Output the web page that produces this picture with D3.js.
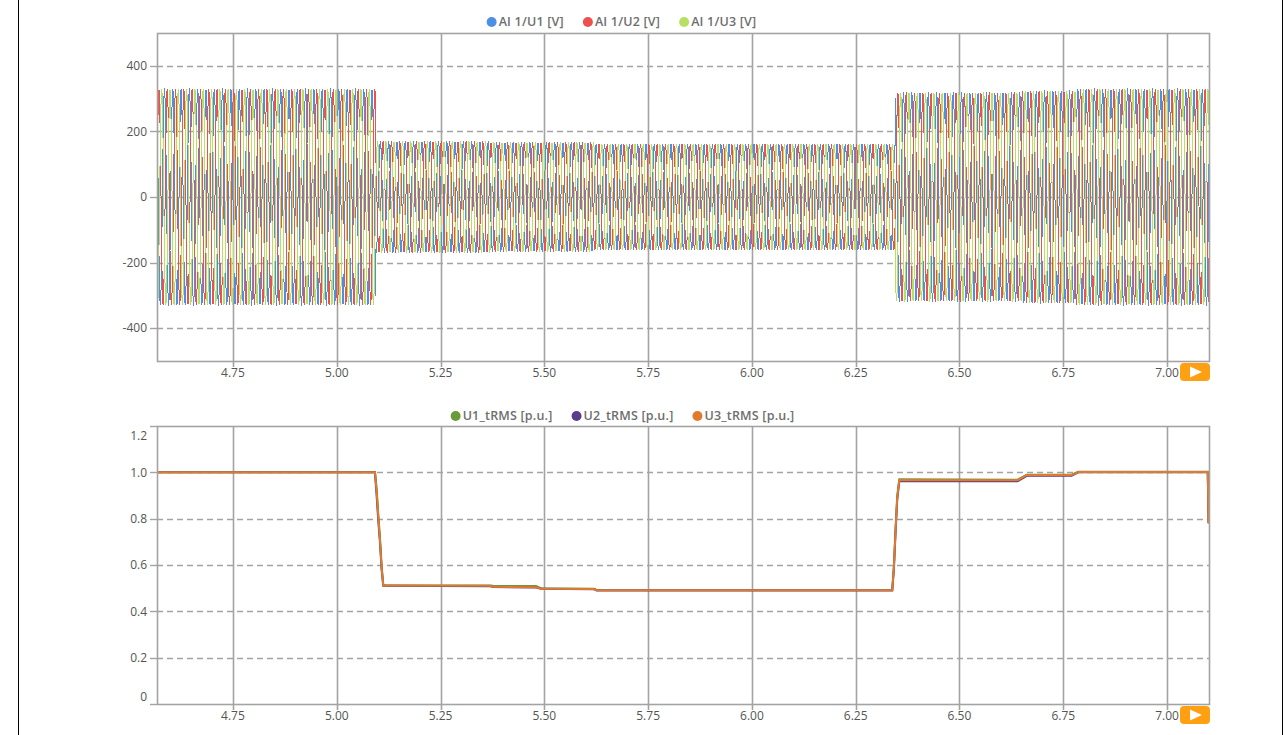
<!DOCTYPE html>
<html>
<head>
<meta charset="utf-8">
<script src="https://cdn.jsdelivr.net/npm/d3@7"></script>
<style>
  html, body { margin: 0; padding: 0; background: #fff; }
  svg { display: block; font-family: "Open Sans", "Noto Sans", sans-serif; }
</style>
</head>
<body>
<svg id="chart" width="1285" height="735"></svg>
<script>
// ---------------- DATA ----------------
const xTicks = [4.75, 5.00, 5.25, 5.50, 5.75, 6.00, 6.25, 6.50, 6.75, 7.00];
const xTickLabels = ["4.75", "5.00", "5.25", "5.50", "5.75", "6.00", "6.25", "6.50", "6.75", "7.00"];
const xDomain = [4.567, 7.101];

const topYTicks = [-400, -200, 0, 200, 400];
const topYTickLabels = ["-400", "-200", "0", "200", "400"];
const topYDomain = [-500, 500];

const botYTicks = [0, 0.2, 0.4, 0.6, 0.8, 1.0, 1.2];
const botYTickLabels = ["0", "0.2", "0.4", "0.6", "0.8", "1.0", "1.2"];
const botYDomain = [0, 1.2];

// voltage channels: three-phase 50 Hz system, read as peak-amplitude segments
const waveNames = ["AI 1/U1 [V]", "AI 1/U2 [V]", "AI 1/U3 [V]"];
const wavePhaseDeg = [0, -120, 120];
const waveFreqHz = 50;
const waveSampleRate = 4000;
const segStart = [4.567, 5.094, 5.37, 5.62, 6.346, 6.65, 6.78];
const segEnd   = [5.094, 5.37, 5.62, 6.346, 6.65, 6.78, 7.101];
const segAmpStart = [327, 168, 165, 160, 316, 321, 327];
const segAmpEnd   = [327, 168, 165, 160, 316, 321, 327];

// tRMS channels (p.u.)
const rmsNames = ["U1_tRMS [p.u.]", "U2_tRMS [p.u.]", "U3_tRMS [p.u.]"];
const rmsT = [4.567, 5.092, 5.096, 5.100, 5.104, 5.108, 5.112, 5.116, 5.370, 5.376, 5.480, 5.492, 5.620, 5.626, 6.338, 6.342, 6.346, 6.350, 6.355, 6.640, 6.662, 6.770, 6.786, 7.098, 7.100];
const rmsU1 = [1.0, 1.0, 0.93, 0.82, 0.72, 0.60, 0.515, 0.513, 0.512, 0.510, 0.509, 0.500, 0.497, 0.492, 0.492, 0.60, 0.76, 0.90, 0.970, 0.968, 0.990, 0.990, 1.002, 1.002, 0.78];
const rmsU2 = [1.0, 1.0, 0.90, 0.79, 0.70, 0.58, 0.510, 0.510, 0.508, 0.505, 0.503, 0.497, 0.495, 0.490, 0.490, 0.58, 0.74, 0.88, 0.962, 0.962, 0.985, 0.985, 1.000, 1.000, 0.78];
const rmsU3 = [1.0, 1.0, 0.92, 0.81, 0.71, 0.59, 0.512, 0.512, 0.510, 0.506, 0.504, 0.498, 0.496, 0.491, 0.491, 0.59, 0.75, 0.89, 0.967, 0.966, 0.988, 0.988, 1.001, 1.001, 0.78];

// ---------------- STYLE ----------------
const waveColors = ["#4d8fe6", "#ec5050", "#b6e061"];
const rmsColors = ["#6a9a3a", "#5a3d8a", "#e07a2e"];
const gridColor = "#a3a3a3";
const textColor = "#555";

const svg = d3.select("#chart");

svg.append("line").attr("x1", 18.5).attr("x2", 18.5).attr("y1", 0).attr("y2", 735).attr("stroke", "#000").attr("stroke-width", 1);
svg.append("line").attr("x1", 1282.5).attr("x2", 1282.5).attr("y1", 0).attr("y2", 735).attr("stroke", "#000").attr("stroke-width", 1);

function drawPanel(cfg) {
  const { top, bottom, left, right, yDomain, yTicks, id } = cfg;
  const x = d3.scaleLinear().domain(xDomain).range([left, right]);
  const y = d3.scaleLinear().domain(yDomain).range([bottom, top]);
  const g = svg.append("g");

  g.selectAll(".hg").data(yTicks.filter(v => v > yDomain[0] && v < yDomain[1])).enter()
    .append("line")
    .attr("x1", left).attr("x2", right)
    .attr("y1", d => Math.round(y(d)) + 0.5).attr("y2", d => Math.round(y(d)) + 0.5)
    .attr("stroke", gridColor).attr("stroke-width", 1.4).attr("stroke-dasharray", "6,4");

  g.selectAll(".vg").data(xTicks).enter()
    .append("line")
    .attr("x1", d => Math.round(x(d)) + 0.5).attr("x2", d => Math.round(x(d)) + 0.5)
    .attr("y1", top).attr("y2", bottom + 6)
    .attr("stroke", gridColor).attr("stroke-width", 1.6);

  g.selectAll(".yt").data(yTicks).enter()
    .append("line")
    .attr("x1", left - 7).attr("x2", left)
    .attr("y1", d => Math.round(y(d)) + 0.5).attr("y2", d => Math.round(y(d)) + 0.5)
    .attr("stroke", gridColor).attr("stroke-width", 1.4);

  svg.append("clipPath").attr("id", id)
    .append("rect").attr("x", left).attr("y", top).attr("width", right - left).attr("height", bottom - top);

  return { x, y, g };
}

function drawFrameAndLabels(p, cfg) {
  const { top, bottom, left, right, yDomain, yTicks, yLabels } = cfg;
  const { x, y } = p;
  const f = svg.append("g");
  f.append("rect").attr("x", left + 0.5).attr("y", top + 0.5)
    .attr("width", right - left).attr("height", bottom - top)
    .attr("fill", "none").attr("stroke", gridColor).attr("stroke-width", 1.6);

  f.selectAll(".yl").data(yTicks).enter().append("text")
    .attr("x", left - 10)
    .attr("y", (d) => y(d) + (d === yDomain[1] ? 10 : d === yDomain[0] ? -7 : 0))
    .attr("dy", "0.35em")
    .attr("text-anchor", "end")
    .attr("font-size", 12).attr("fill", textColor)
    .text((d, i) => yLabels[i]);

  f.selectAll(".xl").data(xTicks).enter().append("text")
    .attr("x", d => x(d))
    .attr("y", bottom + 12)
    .attr("dy", "0.35em")
    .attr("text-anchor", "middle")
    .attr("font-size", 12).attr("fill", textColor)
    .text((d, i) => xTickLabels[i]);

  const bx = right - 29, by = bottom + 2;
  f.append("rect").attr("x", bx).attr("y", by).attr("width", 30).attr("height", 18)
    .attr("rx", 4).attr("fill", "#ffa012");
  f.append("path")
    .attr("d", `M${bx + 10},${by + 3.5} L${bx + 22},${by + 9} L${bx + 10},${by + 14.5} Z`)
    .attr("fill", "#fff");
}

function drawLegend(names, colors, cx, cy) {
  const lg = svg.append("g");
  const items = names.map((n, i) => {
    const t = lg.append("text").attr("y", cy).attr("dy", "0.35em")
      .attr("font-size", 12.5).attr("font-weight", 600).attr("fill", "#6e6e6e")
      .attr("letter-spacing", 0.2).text(n);
    return { t, w: t.node().getComputedTextLength() };
  });
  const gap = 19;
  const total = d3.sum(items, d => d.w) + names.length * 11 + gap * (names.length - 1);
  let xPos = cx - total / 2;
  items.forEach((it, i) => {
    lg.append("circle").attr("cx", xPos + 5).attr("cy", cy).attr("r", 5).attr("fill", colors[i]);
    it.t.attr("x", xPos + 12);
    xPos += 12 + it.w + gap;
  });
}

// ---------------- TOP PANEL ----------------
const topCfg = { top: 33, bottom: 361, left: 157, right: 1209, yDomain: topYDomain, yTicks: topYTicks, yLabels: topYTickLabels, id: "clipTop" };
const pTop = drawPanel(topCfg);

function ampAt(t) {
  for (let i = 0; i < segStart.length; i++) {
    if (t >= segStart[i] && t < segEnd[i]) {
      const f = (t - segStart[i]) / (segEnd[i] - segStart[i]);
      return segAmpStart[i] + (segAmpEnd[i] - segAmpStart[i]) * f;
    }
  }
  return segAmpEnd[segAmpEnd.length - 1];
}
const sampleTimes = d3.range(Math.ceil(xDomain[0] * waveSampleRate), Math.floor(xDomain[1] * waveSampleRate) + 1).map(n => n / waveSampleRate);

const waveG = svg.append("g").attr("clip-path", "url(#clipTop)");
wavePhaseDeg.forEach((ph, k) => {
  const pts = sampleTimes.map(t => [t, ampAt(t) * Math.sin(2 * Math.PI * waveFreqHz * t + ph * Math.PI / 180)]);
  const line = d3.line().x(d => pTop.x(d[0])).y(d => pTop.y(d[1]));
  waveG.append("path").attr("d", line(pts)).attr("fill", "none")
    .attr("stroke", waveColors[k]).attr("stroke-width", 1)
    .attr("shape-rendering", "crispEdges");
});
drawFrameAndLabels(pTop, topCfg);
drawLegend(waveNames, waveColors, 620, 22);

// ---------------- BOTTOM PANEL ----------------
const botCfg = { top: 426, bottom: 704, left: 157, right: 1209, yDomain: botYDomain, yTicks: botYTicks, yLabels: botYTickLabels, id: "clipBot" };
const pBot = drawPanel(botCfg);
const rmsG = svg.append("g").attr("clip-path", "url(#clipBot)");
[rmsU1, rmsU2, rmsU3].forEach((vals, k) => {
  const line = d3.line().x((d, i) => pBot.x(rmsT[i])).y(d => pBot.y(d));
  rmsG.append("path").attr("d", line(vals)).attr("fill", "none")
    .attr("stroke", rmsColors[k]).attr("stroke-width", 2);
});
drawFrameAndLabels(pBot, botCfg);
drawLegend(rmsNames, rmsColors, 621, 416);
</script>
</body>
</html>
